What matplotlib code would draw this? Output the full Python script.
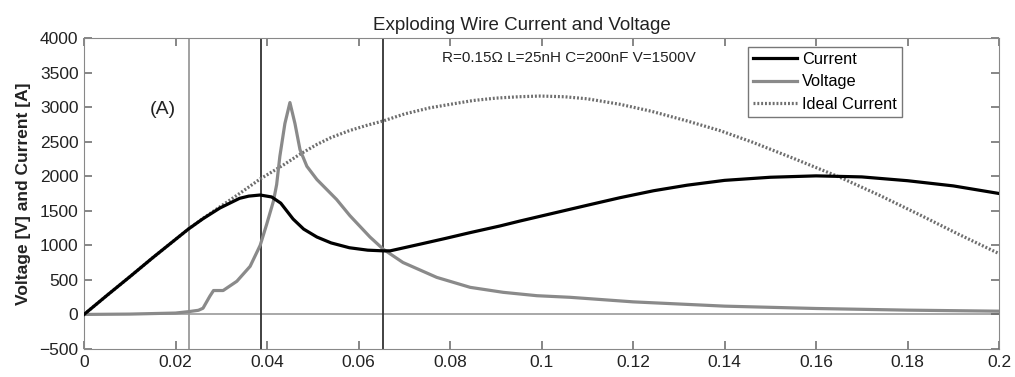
import numpy as np
import matplotlib.pyplot as plt

plt.rcParams['font.family'] = ['Liberation Sans', 'DejaVu Sans']

# values (time, amplitude)
t_ideal = [0, 0.005, 0.01, 0.015, 0.0228, 0.026, 0.03, 0.034, 0.0385, 0.0435,
           0.047, 0.0509, 0.054, 0.058, 0.062, 0.0654, 0.07, 0.0756, 0.08, 0.085,
           0.09, 0.095, 0.0997, 0.105, 0.11, 0.1172, 0.124, 0.1318, 0.139, 0.1462,
           0.155, 0.1652, 0.174, 0.1827, 0.191, 0.2]
i_ideal = [0, 275, 545, 820, 1235, 1390, 1570, 1750, 1960, 2160,
           2310, 2460, 2560, 2660, 2740, 2800, 2900, 2990, 3040, 3095,
           3130, 3150, 3160, 3150, 3120, 3040, 2940, 2800, 2660, 2490,
           2260, 1985, 1720, 1440, 1165, 880]

t_cur = [0, 0.005, 0.01, 0.015, 0.0228, 0.026, 0.0297, 0.034, 0.036, 0.0385,
         0.041, 0.043, 0.0457, 0.048, 0.0509, 0.054, 0.058, 0.062, 0.0654, 0.0669,
         0.0734, 0.079, 0.0844, 0.0909, 0.0953, 0.1, 0.11, 0.1172, 0.1245, 0.1318,
         0.14, 0.15, 0.16, 0.17, 0.18, 0.19, 0.2]
i_cur = [0, 275, 545, 820, 1235, 1385, 1540, 1680, 1712, 1728,
         1700, 1610, 1380, 1235, 1120, 1035, 965, 930, 920, 920,
         1016, 1100, 1184, 1280, 1352, 1425, 1580, 1690, 1790, 1870,
         1940, 1985, 2005, 1990, 1935, 1860, 1750]

t_volt = [0, 0.01, 0.02, 0.0228, 0.025, 0.026, 0.0275, 0.0283, 0.0304, 0.0334,
          0.0363, 0.0385, 0.0399, 0.0414, 0.0421, 0.0428, 0.0439, 0.045, 0.0461, 0.0472,
          0.0487, 0.0509, 0.0552, 0.0581, 0.0625, 0.0654, 0.0697, 0.0771, 0.0844, 0.0916,
          0.099, 0.1062, 0.12, 0.14, 0.16, 0.18, 0.2]
v_volt = [0, 5, 20, 40, 60, 90, 264, 346, 346, 480,
          696, 1000, 1300, 1640, 1880, 2288, 2762, 3066, 2762, 2385,
          2144, 1952, 1664, 1430, 1120, 944, 752, 536, 392, 320,
          271, 248, 182, 120, 86, 62, 47]

markers = [0.0229, 0.0386, 0.0654]
marker_colors = ['#9a9a9a', '#333333', '#333333']

xticks = [0, 0.02, 0.04, 0.06, 0.08, 0.1, 0.12, 0.14, 0.16, 0.18, 0.2]
xlabels = ['0', '0.02', '0.04', '0.06', '0.08', '0.1', '0.12', '0.14', '0.16', '0.18', '0.2']
yticks = list(range(-500, 4001, 500))

fig = plt.figure(figsize=(10.15, 3.77), dpi=100)
ax = fig.add_axes([0.0828, 0.0743, 0.9015, 0.8249])

ax.axhline(0, color='#999999', lw=1.2, zorder=1)
for xm, c in zip(markers, marker_colors):
    ax.axvline(xm, color=c, lw=1.3, zorder=1)

ax.plot(t_cur, i_cur, color='black', lw=2.3, label='Current', zorder=4)
ax.plot(t_volt, v_volt, color='#8a8a8a', lw=2.3, label='Voltage', zorder=3)
ax.plot(t_ideal, i_ideal, color='#6e6e6e', lw=2.3, ls=(0, (0.6, 0.6)),
        label='Ideal Current', zorder=2)

ax.set_xlim(0, 0.2)
ax.set_ylim(-500, 4000)
ax.set_xticks(xticks)
ax.set_xticklabels(xlabels)
ax.set_yticks(yticks)
ax.tick_params(direction='in', top=True, right=True, length=6, width=1.1,
               color='#666666', labelsize=12.5, labelcolor='#222222', pad=4)
for s in ax.spines.values():
    s.set_color('#888888')

ax.set_title('Exploding Wire Current and Voltage', fontsize=13.5, color='#222222',
             pad=6, x=0.478)
ax.set_ylabel('Voltage [V] and Current [A]', fontsize=12.5, fontweight='bold',
              color='#222222', labelpad=6)

ax.text(0.0783, 3717, 'R=0.15\u03a9 L=25nH C=200nF V=1500V', fontsize=11,
        va='center', ha='left', color='#222222')
ax.text(0.0144, 2970, '(A)', fontsize=14, va='center', ha='left', color='#222222')

leg = ax.legend(loc='upper right', bbox_to_anchor=(0.894, 0.971), fontsize=11.8,
                frameon=True, fancybox=False, handlelength=2.7, borderpad=0.3,
                labelspacing=0.45, handletextpad=0.3, borderaxespad=0)
leg.get_frame().set_edgecolor('#555555')
leg.get_frame().set_linewidth(1)

fig.savefig('out.png', dpi=100)
